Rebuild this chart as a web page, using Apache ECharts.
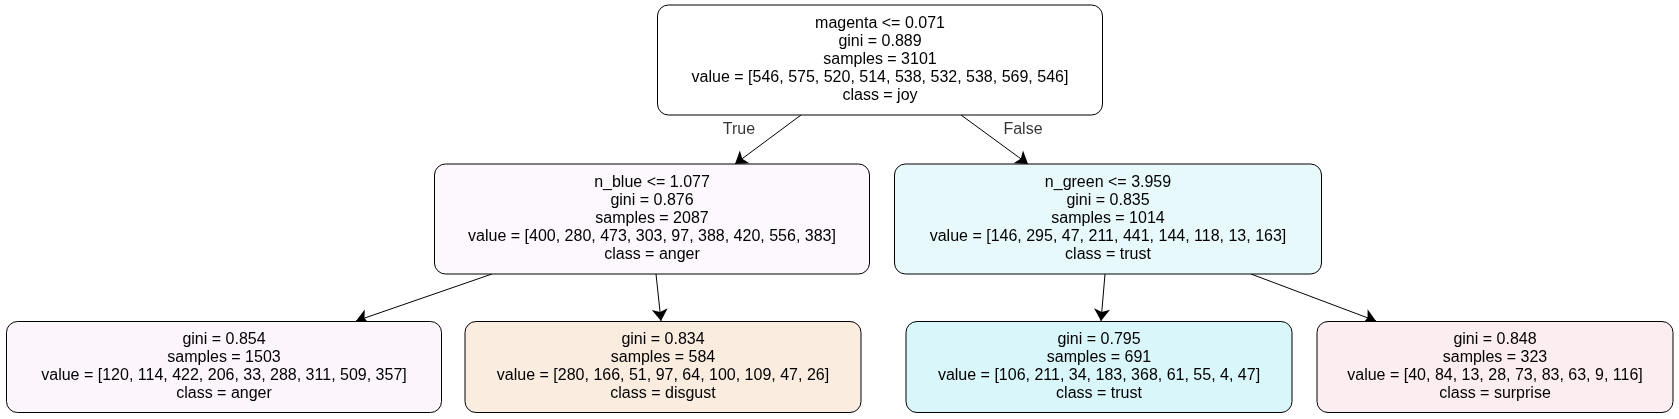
<!DOCTYPE html>
<html>
<head>
<meta charset="UTF-8">
<title>tree</title>
<script src="https://cdn.jsdelivr.net/npm/echarts@6/dist/echarts.min.js"></script>
<style>html,body{margin:0;background:#fff}#main{width:1679px;height:419px}</style>
</head>
<body>
<div id="main"></div>
<script>
// node text
const nodeTexts = [
  'magenta <= 0.071\ngini = 0.889\nsamples = 3101\nvalue = [546, 575, 520, 514, 538, 532, 538, 569, 546]\nclass = joy',
  'n_blue <= 1.077\ngini = 0.876\nsamples = 2087\nvalue = [400, 280, 473, 303, 97, 388, 420, 556, 383]\nclass = anger',
  'n_green <= 3.959\ngini = 0.835\nsamples = 1014\nvalue = [146, 295, 47, 211, 441, 144, 118, 13, 163]\nclass = trust',
  'gini = 0.854\nsamples = 1503\nvalue = [120, 114, 422, 206, 33, 288, 311, 509, 357]\nclass = anger',
  'gini = 0.834\nsamples = 584\nvalue = [280, 166, 51, 97, 64, 100, 109, 47, 26]\nclass = disgust',
  'gini = 0.795\nsamples = 691\nvalue = [106, 211, 34, 183, 368, 61, 55, 4, 47]\nclass = trust',
  'gini = 0.848\nsamples = 323\nvalue = [40, 84, 13, 28, 73, 83, 63, 9, 116]\nclass = surprise'
];
const nodeColors = ['#ffffff','#fdf8fd','#e8f9fc','#fcf5fc','#fbece0','#d9f6fa','#fcedf0'];
// layout (pixel space of the 1679x419 image)
const nodeX = [880, 652, 1108, 224, 663, 1099, 1495];
const nodeY = [60, 219, 219, 367, 367, 367, 367];
const nodeW = [445, 435, 427, 435, 396, 386, 356];
const nodeH = [110, 110, 110, 91, 91, 91, 91];
const edges = [
  [[801,115],[735,164]], [[961,115],[1028,164]],
  [[492,274],[356,321]], [[656,274],[661,321]],
  [[1105,274],[1101,321]], [[1251,274],[1376,321]]
];
const edgeLabels = [['True',739,130],['False',1023,130]];

const font = 'Liberation Sans, Arial, sans-serif';
const chart = echarts.init(document.getElementById('main'));
chart.setOption({
  animation: false,
  grid: {left:0, right:0, top:0, bottom:0},
  xAxis: {type:'value', min:0, max:1679, show:false},
  yAxis: {type:'value', min:0, max:419, inverse:true, show:false},
  series: [
    {
      type:'lines', coordinateSystem:'cartesian2d', z:1,
      symbol:['none','arrow'], symbolSize:12,
      lineStyle:{color:'#000', width:1, opacity:1},
      data: edges.map(e => ({coords:e}))
    },
    {
      type:'custom', z:2,
      data: nodeTexts.map((t,i) => [nodeX[i], nodeY[i], i]),
      renderItem: (params, api) => {
        const i = api.value(2);
        const c = api.coord([api.value(0), api.value(1)]);
        const w = nodeW[i], h = nodeH[i];
        return {
          type:'group',
          children:[
            {type:'rect', shape:{x:c[0]-w/2, y:c[1]-h/2, width:w, height:h, r:11},
             style:{fill:nodeColors[i], stroke:'#000', lineWidth:1}},
            {type:'text', x:c[0], y:c[1],
             style:{text:nodeTexts[i], fill:'#000', font:'16px ' + font,
                    lineHeight:18, align:'center', verticalAlign:'middle'}}
          ]
        };
      }
    },
    {
      type:'scatter', symbolSize:0, z:3,
      data: edgeLabels.map(l => ({value:[l[1], l[2]], name:l[0]})),
      label:{show:true, position:'inside', formatter:p => p.name, color:'#000',
             fontFamily:font, fontSize:16}
    }
  ]
});
</script>
</body>
</html>
